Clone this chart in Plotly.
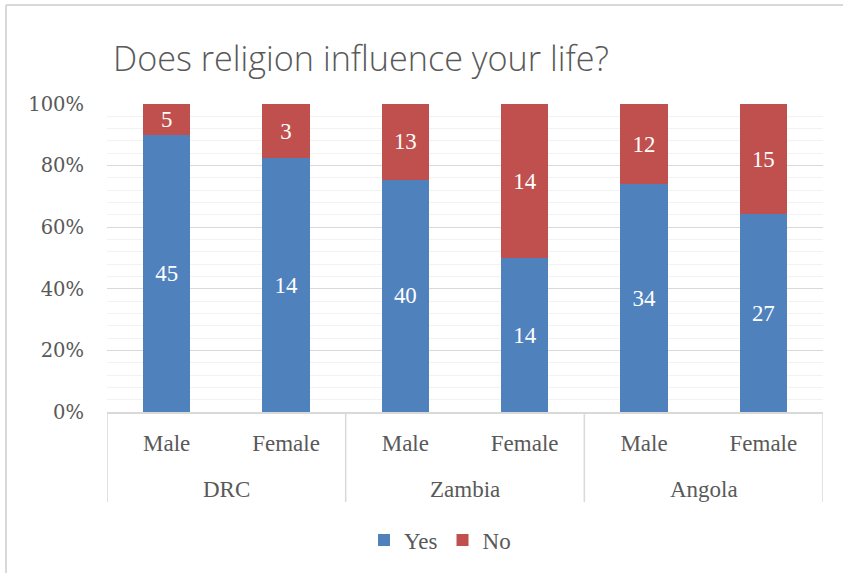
import plotly.graph_objects as go

countries = ["DRC", "DRC", "Zambia", "Zambia", "Angola", "Angola"]
genders = ["Male", "Female", "Male", "Female", "Male", "Female"]
yes_counts = [45, 14, 40, 14, 34, 27]
no_counts = [5, 3, 13, 14, 12, 15]
pct_ticks = [0, 20, 40, 60, 80, 100]
pct_labels = ["0%", "20%", "40%", "60%", "80%", "100%"]

W, H = 843, 573
ML, MR, MT, MB = 107, 20, 104, 161
PW, PH = W - ML - MR, H - MT - MB

totals = [y + n for y, n in zip(yes_counts, no_counts)]
yes_pct = [y / t * 100 for y, t in zip(yes_counts, totals)]
no_pct = [n / t * 100 for n, t in zip(no_counts, totals)]
pos = list(range(len(genders)))

SERIF = "Liberation Serif"
GREY = "#595959"
LINE = "#d9d9d9"
label_font = dict(family=SERIF, size=24, color="white")

fig = go.Figure()
fig.add_trace(go.Bar(
    x=pos, y=yes_pct, name="Yes",
    marker=dict(color="#4f81bd", line=dict(width=0)),
    text=[str(v) for v in yes_counts], textposition="inside", textangle=0,
    insidetextanchor="middle", textfont=label_font, hoverinfo="skip",
))
fig.add_trace(go.Bar(
    x=pos, y=no_pct, name="No",
    marker=dict(color="#c0504d", line=dict(width=0)),
    text=[str(v) for v in no_counts], textposition="inside", textangle=0,
    insidetextanchor="middle", textfont=label_font, hoverinfo="skip",
))

# helpers converting pixel offsets into paper fractions
px_x = lambda p: (p - ML) / PW
px_y = lambda p: 1 - (p - MT) / PH

# country group labels and the divider box under the axis
groups = []
for i, c in enumerate(countries):
    if not groups or groups[-1][0] != c:
        groups.append([c, i, i])
    else:
        groups[-1][2] = i
for name, first, last in groups:
    fig.add_annotation(x=(first + last) / 2, xref="x", y=px_y(489), yref="paper",
                       text=name, showarrow=False, yanchor="middle",
                       font=dict(family=SERIF, size=23, color=GREY))
edges = [g[1] - 0.5 for g in groups] + [groups[-1][2] + 0.5]
for e in edges:
    fig.add_shape(type="line", xref="x", yref="paper", x0=e, x1=e,
                  y0=0, y1=px_y(502), line=dict(color=LINE, width=1.5))

# light frame around the chart area (open to the right and bottom)
frame = dict(color=LINE, width=2)
fig.add_shape(type="line", xref="paper", yref="paper",
              x0=px_x(6), x1=px_x(850), y0=px_y(5), y1=px_y(5), line=frame)
fig.add_shape(type="line", xref="paper", yref="paper",
              x0=px_x(6), x1=px_x(6), y0=px_y(5), y1=px_y(580), line=frame)

fig.update_layout(
    width=W, height=H,
    margin=dict(l=ML, r=MR, t=MT, b=MB),
    barmode="stack", bargap=0.606,
    paper_bgcolor="white", plot_bgcolor="white",
    title=dict(text="Does religion influence your life?",
               x=113 / W, xanchor="left",
               y=1 - 59 / H, yanchor="middle",
               font=dict(family="Open Sans", size=34.2, color=GREY, weight=300)),
    showlegend=True,
    legend=dict(orientation="h", traceorder="normal", x=px_x(440), xanchor="center",
                y=px_y(540), yanchor="middle",
                font=dict(family=SERIF, size=23, color=GREY),
                itemwidth=30, tracegroupgap=0),
    uniformtext=dict(mode="show", minsize=8),
)
fig.update_yaxes(
    range=[0, 100], tickvals=pct_ticks, ticktext=pct_labels,
    showgrid=True, gridcolor=LINE, gridwidth=1,
    minor=dict(dtick=4, showgrid=True, gridcolor="#f2f2f2", gridwidth=1),
    tickfont=dict(family="DejaVu Serif", size=19.5, color=GREY),
    zeroline=False, showline=False, ticks="", ticklabelstandoff=22,
)
fig.update_xaxes(
    range=[-0.5, len(pos) - 0.5], tickvals=pos, ticktext=genders,
    tickfont=dict(family=SERIF, size=23, color=GREY),
    showline=True, linecolor=LINE, linewidth=1.5,
    ticks="", showgrid=False, ticklabelstandoff=10,
)

fig.write_html("out.html")
